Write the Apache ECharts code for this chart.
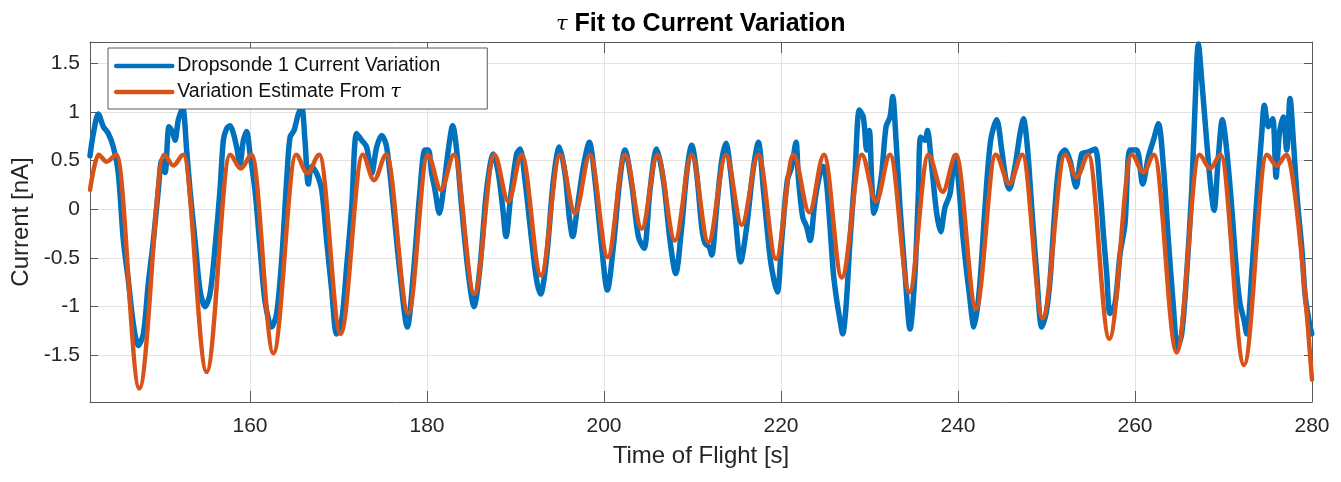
<!DOCTYPE html>
<html>
<head>
<meta charset="utf-8">
<title>tau fit</title>
<script src="https://cdn.jsdelivr.net/npm/echarts@6/dist/echarts.min.js"></script>
<style>
  html, body { margin: 0; padding: 0; background: #fff; }
  #chart { width: 1341px; height: 482px; }
</style>
</head>
<body>
<div id="chart"></div>
<script>
// measured dropsonde current [nA] vs time of flight [s]
var sondeTime = [
  141.92, 142.30, 142.86, 143.43, 143.99, 144.56, 145.12, 145.69, 146.25, 146.82,
  147.38, 147.95, 148.51, 149.08, 149.64, 150.02, 150.40, 150.85, 151.22, 151.53,
  151.90, 152.39, 152.84, 153.22, 153.79, 154.35, 154.92, 155.48, 156.05, 156.61,
  156.99, 157.36, 157.74, 158.12, 158.49, 158.87, 159.25, 159.62, 160.00, 160.56,
  161.13, 161.69, 162.45, 163.01, 163.58, 164.14, 164.52, 164.97, 165.46, 165.84,
  166.21, 166.59, 166.97, 167.53, 168.10, 168.66, 169.23, 169.79, 170.36, 170.92,
  171.49, 172.05, 172.62, 173.18, 173.75, 174.31, 174.88, 175.44, 176.20, 176.95,
  177.78, 178.46, 179.21, 179.77, 180.15, 180.53, 180.90, 181.39, 181.85, 182.41,
  182.90, 183.35, 183.92, 184.67, 185.31, 185.99, 186.74, 187.50, 188.06, 188.55,
  188.93, 189.45, 190.13, 190.51, 191.07, 191.83, 192.39, 192.84, 193.52, 194.28,
  194.95, 195.59, 196.08, 196.46, 196.99, 197.67, 198.34, 198.98, 199.74, 200.38,
  201.05, 201.73, 202.37, 203.13, 203.88, 204.52, 205.20, 205.95, 206.71, 207.46,
  208.10, 208.78, 209.34, 209.91, 210.47, 211.04, 211.41, 211.90, 212.17, 212.73,
  213.30, 213.79, 214.24, 214.80, 215.44, 216.12, 216.80, 217.44, 218.01, 218.76,
  219.21, 219.59, 220.08, 220.72, 221.21, 221.70, 221.96, 222.45, 222.90, 223.28,
  223.84, 224.41, 224.79, 225.16, 225.54, 225.92, 226.29, 226.67, 226.97, 227.35,
  227.80, 228.36, 228.85, 229.30, 229.68, 229.98, 230.25, 230.51, 230.89, 231.38,
  231.87, 232.32, 232.62, 233.00, 233.45, 234.01, 234.58, 235.14, 235.52, 235.78,
  236.27, 236.54, 237.03, 237.59, 238.04, 238.53, 239.10, 239.66, 240.04, 240.60,
  241.28, 241.81, 242.41, 243.05, 243.69, 244.37, 244.94, 245.43, 245.80, 246.44,
  247.01, 247.39, 247.84, 248.33, 248.89, 249.46, 249.95, 250.40, 250.96, 251.53,
  252.09, 252.66, 253.34, 253.98, 254.73, 255.48, 256.05, 256.43, 256.80, 257.18,
  257.74, 258.31, 258.87, 259.44, 260.19, 260.87, 261.51, 262.08, 262.64, 263.21,
  263.77, 264.34, 264.79, 265.28, 265.84, 266.41, 266.78, 267.16, 267.54, 268.03,
  268.48, 268.93, 269.42, 269.87, 270.36, 270.93, 271.49, 271.87, 272.32, 272.62,
  273.19, 273.75, 274.32, 274.62, 275.07, 275.56, 275.94, 276.31, 276.76, 277.14,
  277.52, 277.89, 278.35, 278.84, 279.21, 279.59, 279.97
];
var sondeCurrent = [
  0.55, 0.78, 0.98, 0.85, 0.78, 0.64, 0.37, -0.32, -0.73, -1.18,
  -1.40, -1.28, -0.76, -0.32, 0.20, 0.50, 0.38, 0.85, 0.80, 0.71,
  0.92, 1.04, 0.61, 0.20, -0.32, -0.83, -1.00, -0.87, -0.39, 0.20,
  0.71, 0.83, 0.86, 0.78, 0.64, 0.47, 0.71, 0.80, 0.57, 0.20,
  -0.39, -0.94, -1.21, -1.07, -0.52, 0.30, 0.74, 0.81, 0.98, 1.05,
  0.71, 0.26, 0.44, 0.37, 0.20, -0.32, -0.83, -1.28, -1.14, -0.59,
  0.02, 0.78, 0.71, 0.64, 0.37, 0.64, 0.76, 0.64, 0.02, -0.66,
  -1.21, -0.66, 0.20, 0.61, 0.61, 0.37, 0.20, -0.04, 0.20, 0.61,
  0.86, 0.61, 0.02, -0.66, -1.00, -0.59, 0.20, 0.57, 0.37, 0.02,
  -0.28, 0.13, 0.57, 0.62, 0.30, -0.32, -0.73, -0.87, -0.49, 0.30,
  0.64, 0.37, -0.08, -0.28, 0.02, 0.44, 0.69, 0.30, -0.39, -0.83,
  -0.39, 0.26, 0.61, 0.26, -0.28, -0.40, 0.20, 0.62, 0.30, -0.32,
  -0.66, -0.18, 0.37, 0.66, 0.37, -0.18, -0.35, -0.39, -0.47, 0.02,
  0.50, 0.68, 0.44, -0.04, -0.54, -0.18, 0.37, 0.69, 0.20, -0.49,
  -0.73, -0.85, -0.32, 0.30, 0.44, 0.69, 0.33, -0.08, -0.18, -0.32,
  0.09, 0.37, 0.44, 0.26, -0.18, -0.66, -0.93, -1.14, -1.28, -1.00,
  -0.32, 0.37, 1.02, 0.95, 0.61, 0.81, 0.30, -0.04, 0.09, 0.37,
  0.85, 0.95, 1.16, 0.71, 0.02, -0.66, -1.23, -0.66, 0.16, 0.74,
  0.71, 0.81, 0.44, -0.04, -0.23, 0.02, 0.16, 0.55, 0.30, -0.32,
  -0.87, -1.21, -0.83, 0.02, 0.71, 0.92, 0.61, 0.30, 0.21, 0.44,
  0.78, 0.93, 0.64, 0.02, -0.66, -1.21, -1.07, -0.73, 0.02, 0.54,
  0.61, 0.50, 0.23, 0.57, 0.59, 0.62, 0.20, -0.25, -0.66, -1.07,
  -0.97, -0.46, -0.15, 0.61, 0.61, 0.26, 0.54, 0.71, 0.88, 0.44,
  -0.32, -1.00, -1.42, -1.28, -0.66, 0.20, 1.05, 1.70, 1.33, 0.78,
  0.30, -0.01, 0.54, 0.92, 0.61, 0.02, -0.66, -0.97, -1.14, -1.28,
  -0.66, 0.09, 0.78, 1.07, 0.85, 0.93, 0.33, 0.78, 0.95, 0.61,
  1.14, 0.71, 0.09, -0.39, -0.87, -1.11, -1.28
];

// fitted estimate: turning points of the tau model curve
var fitTime = [
  141.92, 142.86, 143.80, 144.93, 147.49, 150.28, 151.34, 152.47, 155.10, 157.74,
  158.95, 160.19, 162.64, 165.20, 166.48, 167.83, 170.24, 172.73, 174.01, 175.40,
  177.89, 180.08, 181.58, 183.05, 185.35, 187.61, 189.19, 190.70, 192.88, 195.03,
  196.72, 198.42, 200.42, 202.37, 204.26, 206.03, 208.02, 209.91, 211.79, 213.79,
  215.56, 217.44, 219.44, 221.40, 223.20, 224.86, 226.86, 229.12, 230.74, 232.32,
  234.50, 236.65, 238.27, 239.78, 242.04, 244.25, 245.80, 247.27, 249.57, 252.09,
  253.41, 254.73, 257.10, 259.63, 260.95, 262.15, 264.71, 267.27, 268.48, 269.68,
  272.32, 274.88, 276.01, 277.14, 280.00
];
var fitCurrent = [
  0.20, 0.56, 0.49, 0.56, -1.84, 0.56, 0.45, 0.56, -1.67, 0.56,
  0.42, 0.56, -1.48, 0.56, 0.37, 0.56, -1.28, 0.56, 0.30, 0.56,
  -1.07, 0.56, 0.20, 0.56, -0.87, 0.56, 0.08, 0.56, -0.68, 0.56,
  -0.04, 0.56, -0.49, 0.56, -0.20, 0.56, -0.32, 0.56, -0.34, 0.56,
  -0.16, 0.56, -0.51, 0.56, -0.03, 0.56, -0.70, 0.56, 0.08, 0.56,
  -0.85, 0.56, 0.18, 0.56, -1.02, 0.56, 0.26, 0.56, -1.12, 0.56,
  0.33, 0.56, -1.33, 0.56, 0.38, 0.56, -1.47, 0.56, 0.42, 0.56,
  -1.60, 0.56, 0.45, 0.56, -1.75
];

var xTicks = [160, 180, 200, 220, 240, 260, 280];
var yTicks = [-1.5, -1, -0.5, 0, 0.5, 1, 1.5];

function zip(xs, ys) {
  var out = [];
  for (var i = 0; i < xs.length; i++) out.push([xs[i], ys[i]]);
  return out;
}

var font = '"Liberation Sans", Arial, Helvetica, sans-serif';
var textCol = '#262626';
var frameCol = '#5a5a5a';
var gridCol = '#e3e3e3';
var tau = { fontFamily: '"DejaVu Serif", serif', fontStyle: 'italic', fontWeight: 'normal', color: '#000' };

var X_MIN = 141.92, X_MAX = 280, Y_MIN = -1.98, Y_MAX = 1.72;

var chart = echarts.init(document.getElementById('chart'), null, { renderer: 'canvas' });
chart.setOption({
  animation: false,
  backgroundColor: '#fff',
  title: {
    text: '{t|τ} Fit to Current Variation',
    left: 556,
    top: 12,
    padding: 0,
    textStyle: {
      fontFamily: font, fontSize: 25, fontWeight: 'bold', color: '#000',
      rich: { t: Object.assign({ fontSize: 21 }, tau) }
    }
  },
  legend: {
    orient: 'vertical',
    left: 108,
    top: 48,
    padding: [8, 47, 7, 6],
    itemWidth: 56,
    itemHeight: 20,
    itemGap: 6,
    backgroundColor: '#fff',
    borderColor: frameCol,
    borderWidth: 1,
    borderRadius: 0,
    // line only, hide the marker MATLAB never draws
    itemStyle: { opacity: 0 },
    lineStyle: { width: 4.5 },
    textStyle: {
      fontFamily: font, fontSize: 19.5, color: '#111',
      rich: { t: Object.assign({ fontSize: 19 }, tau) }
    },
    formatter: function (name) { return name.replace('τ', '{t|τ}'); }
  },
  grid: { left: 90, right: 29, top: 42, bottom: 80 },
  xAxis: [{
    type: 'value', min: X_MIN, max: X_MAX, position: 'bottom',
    axisLine: { show: true, onZero: false, lineStyle: { color: frameCol, width: 1 } },
    axisTick: { show: true, inside: true, length: 11, customValues: xTicks, lineStyle: { color: frameCol } },
    axisLabel: { customValues: xTicks, margin: 14, fontFamily: font, fontSize: 21, color: textCol },
    splitLine: { show: true, lineStyle: { color: gridCol, width: 1 } },
    name: 'Time of Flight [s]', nameLocation: 'middle', nameGap: 42,
    nameTextStyle: { fontFamily: font, fontSize: 24, color: textCol }
  }, {
    type: 'value', min: X_MIN, max: X_MAX, position: 'top',
    axisLine: { show: true, onZero: false, lineStyle: { color: frameCol, width: 1 } },
    axisTick: { show: true, inside: true, length: 11, customValues: xTicks, lineStyle: { color: frameCol } },
    axisLabel: { show: false },
    splitLine: { show: false }
  }],
  yAxis: [{
    type: 'value', min: Y_MIN, max: Y_MAX, position: 'left',
    axisLine: { show: true, onZero: false, lineStyle: { color: frameCol, width: 1 } },
    axisTick: { show: true, inside: true, length: 8, customValues: yTicks, lineStyle: { color: frameCol } },
    axisLabel: { customValues: yTicks, margin: 10, fontFamily: font, fontSize: 21, color: textCol },
    splitLine: { show: true, lineStyle: { color: gridCol, width: 1 } },
    name: 'Current [nA]', nameLocation: 'middle', nameGap: 44,
    nameTextStyle: { fontFamily: font, fontSize: 24, color: textCol }
  }, {
    type: 'value', min: Y_MIN, max: Y_MAX, position: 'right',
    axisLine: { show: true, onZero: false, lineStyle: { color: frameCol, width: 1 } },
    axisTick: { show: true, inside: true, length: 8, customValues: yTicks, lineStyle: { color: frameCol } },
    axisLabel: { show: false },
    splitLine: { show: false }
  }],
  series: [{
    name: 'Dropsonde 1 Current Variation',
    type: 'line',
    data: zip(sondeTime, sondeCurrent),
    symbol: 'none',
    smooth: 0.3,
    color: '#0072BD',
    lineStyle: { color: '#0072BD', width: 5.5, join: 'round', cap: 'round' },
    z: 2
  }, {
    name: 'Variation Estimate From τ',
    type: 'line',
    data: zip(fitTime, fitCurrent),
    symbol: 'none',
    smooth: 0.35,
    smoothMonotone: 'x',
    color: '#D95319',
    lineStyle: { color: '#D95319', width: 4.5, join: 'round', cap: 'round' },
    z: 3
  }]
});
window.addEventListener('resize', function () { chart.resize(); });
</script>
</body>
</html>
